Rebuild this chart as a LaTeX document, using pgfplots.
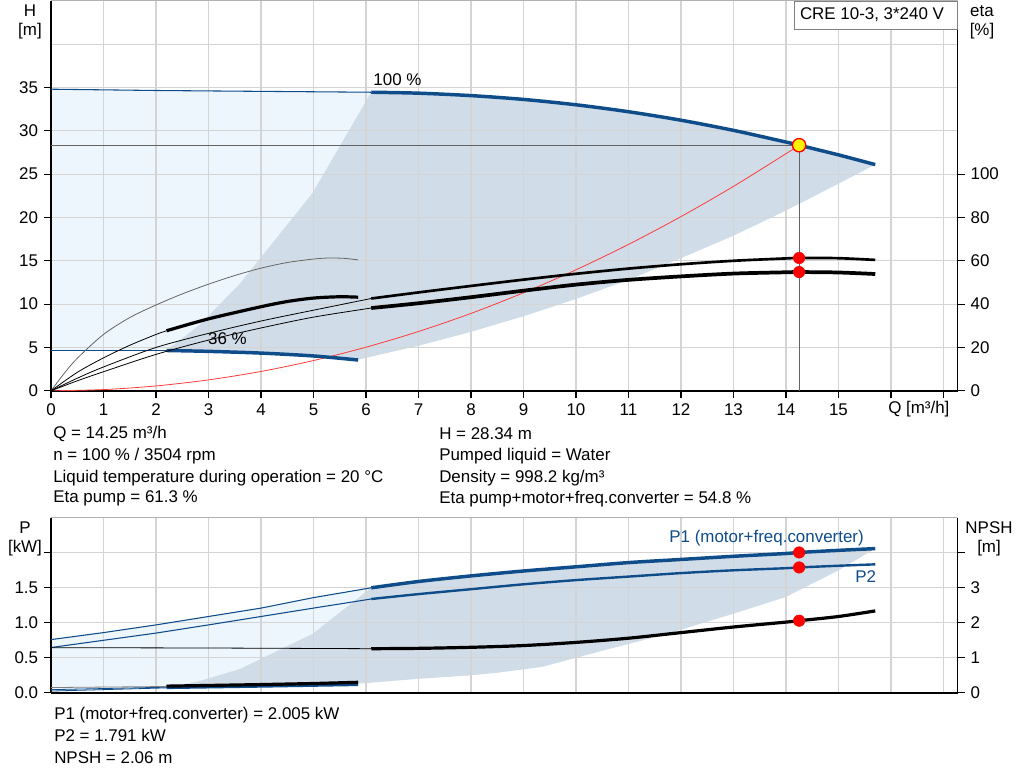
\documentclass[12pt,border=0pt]{standalone}
\usepackage{fontspec}
\setmainfont{Liberation Sans}
\usepackage{pgfplots}
\pgfplotsset{compat=1.18}

\definecolor{pblue}{RGB}{14,76,138}
\definecolor{fillD}{RGB}{208,220,231}
\definecolor{fillL}{RGB}{237,245,253}
\definecolor{gridc}{RGB}{212,212,212}
\definecolor{opgray}{RGB}{100,100,100}
\definecolor{sysred}{RGB}{255,60,60}
\newcommand\myf{\fontsize{12.7}{15}\selectfont}

\pgfplotsset{
  base/.style={scale only axis, width=680pt, set layers, xmin=0, xmax=17.27,
    tick align=outside, major tick length=5.5pt,
    every tick/.style={black, line width=0.8pt},
    axis line style={black, line width=1.2pt},
    tick label style={font=\myf},
    grid=major, major grid style={gridc, line width=0.9pt}},
  sec/.style={scale only axis, width=680pt, set layers, xmin=0, xmax=17.27,
    tick align=outside, major tick length=5.5pt,
    every tick/.style={black, line width=0.8pt},
    axis line style={black, line width=1.2pt},
    tick label style={font=\myf},
    axis y line*=right, axis x line=none, grid=none},
  thinb/.style={pblue, line width=0.8pt},
  thickb/.style={pblue, line width=2.6pt},
  medb/.style={pblue, line width=1.8pt},
  reddot/.style={only marks, mark=*, mark size=4.3pt, mark options={draw=red, fill=red}},
}

\begin{document}
\begin{tikzpicture}

% ================= TOP: H =================
\begin{axis}[base, at={(38.25pt,293.25pt)}, anchor=south west, height=292.5pt,
  ymin=0, ymax=45,
  axis x line*=bottom, axis y line*=left,
  xtick={0,1,2,3,4,5,6,7,8,9,10,11,12,13,14,15,16,17},
  xticklabels={0,1,2,3,4,5,6,7,8,9,10,11,12,13,14,15,,},
  ytick={0,5,10,15,20,25,30,35},
  yticklabels={0,5,10,15,20,25,30,35},
  extra y ticks={40}, extra y tick labels={},
  extra y tick style={grid=major, major tick length=0pt}]
% light region
\addplot[fill=fillL, draw=none, on layer=axis background] coordinates {
  (0,4.62) (2.2,4.62) (3,4.55) (4,4.35) (5,4.02) (5.85,3.55)
  (6.1,34.45) (4,34.55) (2,34.65) (0,34.8)} -- cycle;
% operating range
\addplot[fill=fillD, draw=none, on layer=axis background] coordinates {
  (2.2,4.65) (2.83,7.6) (3.59,12.3) (4.98,22.8) (6.1,34.45)
  (7,34.34) (8,34.06) (9,33.62) (10,33.0) (11,32.2) (12,31.22) (13,30.05) (14,28.7) (14.25,28.34) (15,27.22) (15.7,26.1)
  (15,23.9) (14,20.8) (13,17.9) (12,15.3) (11,12.8) (10,10.6) (9,8.6) (8,6.8) (7,5.2) (5.85,3.6)
  (5,4.02) (4,4.35) (3,4.55)} -- cycle;
% duty lines
\addplot[opgray, line width=0.8pt] coordinates {(0,28.34) (14.25,28.34)};
\addplot[opgray, line width=0.8pt] coordinates {(14.25,0) (14.25,28.34)};
% system curve
\addplot[sysred, line width=0.6pt, smooth] coordinates {
  (0,0) (1,0.14) (2,0.56) (3,1.26) (4,2.23) (5,3.49) (6,5.03) (7,6.84) (8,8.93)
  (9,11.31) (10,13.96) (11,16.89) (12,20.10) (13,23.59) (14,27.36) (14.25,28.34)};
% 100 % curve
\addplot[thinb] coordinates {(0,34.8) (2,34.65) (4,34.55) (6.1,34.45)};
\addplot[thickb, smooth] coordinates {(6.1,34.45) (7,34.34) (8,34.06) (9,33.62) (10,33.0) (11,32.2) (12,31.22) (13,30.05) (14,28.7) (14.25,28.34) (15,27.22) (15.7,26.1)};
% 36 % curve
\addplot[thinb] coordinates {(0,4.62) (2.2,4.62)};
\addplot[thickb, smooth] coordinates {(2.2,4.65) (3,4.55) (4,4.35) (5,4.02) (5.85,3.55)};
% duty point
\addplot[only marks, mark=*, mark size=5pt, mark options={draw=red, fill=yellow, line width=1pt}] coordinates {(14.25,28.34)};
\node[font=\myf] at (axis cs:6.6,35.9) {100 \%};
\node[font=\myf] at (axis cs:3.36,6.0) {36 \%};
\draw[gray!60, line width=0.8pt] (rel axis cs:0,1) -- (rel axis cs:1,1);
\end{axis}

% ================= TOP: eta =================
\begin{axis}[sec, at={(38.25pt,293.25pt)}, anchor=south west, height=292.5pt,
  ymin=0, ymax=180,
  ytick={0,20,40,60,80,100}, yticklabels={0,20,40,60,80,100}]
% 36 % pump eta
\addplot[gray!80!black, line width=0.6pt, smooth] coordinates {
  (0,0) (0.25,8) (0.5,15) (1,26) (1.5,33.8) (2,39.6) (2.5,44.7) (3,49.2) (3.5,53.2)
  (4,56.6) (4.5,59.2) (5,60.8) (5.3,61.3) (5.6,61.1) (5.85,60.4)};
% 36 % total eta
\addplot[black, line width=0.6pt, smooth] coordinates {(0,0) (0.5,8.5) (1,15.2) (1.5,21) (2,26) (2.2,27.7)};
\addplot[black, line width=2.4pt, smooth] coordinates {(2.2,27.7) (3,33.2) (4,38.8) (4.5,41.2) (5,42.8) (5.5,43.4) (5.85,43.2)};
% 100 % pump eta
\addplot[black, line width=0.6pt, smooth] coordinates {(0,0) (0.5,5.8) (1,11) (2,20) (3,26.5) (4,32.2) (5,37.2) (6.1,42.6)};
\addplot[black, line width=2pt, smooth] coordinates {(6.1,42.6) (7,45.4) (8,48.4) (9,51.3) (10,54.0) (11,56.4) (12,58.4) (13,60.0) (14,61.1) (14.25,61.3) (15,61.2) (15.7,60.4)};
% 100 % total eta
\addplot[black, line width=0.6pt, smooth] coordinates {(0,0) (0.5,4.6) (1,8.8) (2,16.8) (3,23.4) (4,29) (5,34) (6.1,38.2)};
\addplot[black, line width=2.8pt, smooth] coordinates {(6.1,38.2) (7,40.4) (8,43.2) (9,46.2) (10,49.0) (11,51.2) (12,52.8) (13,54.1) (14,54.7) (14.25,54.8) (15,54.6) (15.7,53.9)};
\addplot[reddot] coordinates {(14.25,61.3) (14.25,54.8)};
\end{axis}

% ================= BOTTOM: P =================
\begin{axis}[base, at={(38.25pt,66.75pt)}, anchor=south west, height=131.25pt,
  ymin=0, ymax=2.5,
  axis x line*=bottom, axis y line*=left,
  xtick={0,1,2,3,4,5,6,7,8,9,10,11,12,13,14,15,16,17}, xticklabels={},
  xtick style={draw=none},
  ytick={0,0.5,1,1.5,2}, yticklabels={0.0,0.5,1.0,1.5,}]
\addplot[fill=fillL, draw=none, on layer=axis background] coordinates {
  (0,0.02) (1,0.035) (2.2,0.065) (4,0.09) (5.85,0.11)
  (6.1,1.5) (5,1.36) (4,1.21) (3,1.09) (2,0.97) (1,0.86) (0,0.76)} -- cycle;
\addplot[fill=fillD, draw=none, on layer=axis background] coordinates {
  (2.2,0.07) (2.83,0.168) (3.59,0.337) (4.98,0.84) (6.1,1.5)
  (7,1.59) (8,1.67) (9,1.74) (10,1.80) (11,1.86) (12,1.905) (13,1.95) (14,1.99) (15,2.035) (15.7,2.06)
  (15,1.75) (14,1.37) (13,1.13) (11.73,0.84) (10.5,0.6) (9.35,0.37) (8.54,0.29) (8,0.25) (7,0.2) (5.85,0.13)
  (4,0.09)} -- cycle;
% P1
\addplot[thinb] coordinates {(0,0.76) (1,0.86) (2,0.97) (3,1.09) (4,1.21) (5,1.36) (6.1,1.5)};
\addplot[thickb, smooth] coordinates {(6.1,1.5) (7,1.59) (8,1.67) (9,1.74) (10,1.80) (11,1.86) (12,1.905) (13,1.95) (14,1.99) (14.25,2.005) (15,2.035) (15.7,2.06)};
% P2
\addplot[thinb] coordinates {(0,0.647) (1,0.75) (2,0.853) (3,0.97) (4,1.09) (5,1.21) (6.1,1.34)};
\addplot[medb, smooth] coordinates {(6.1,1.34) (7,1.41) (8,1.48) (9,1.55) (10,1.61) (11,1.66) (12,1.71) (13,1.75) (14,1.78) (14.25,1.791) (15,1.815) (15.7,1.835)};
% 36 %
\addplot[thinb, line width=0.6pt] coordinates {(0,0.045) (2.2,0.08)};
\addplot[thinb, line width=0.6pt] coordinates {(0,0.025) (2.2,0.07)};
\addplot[medb, line width=2pt] coordinates {(2.2,0.072) (4,0.092) (5.85,0.115)};
\addplot[reddot] coordinates {(14.25,2.005) (14.25,1.791)};
\node[pblue, font=\myf] at (axis cs:13.63,2.21) {P1 (motor+freq.converter)};
\node[pblue, font=\myf] at (axis cs:15.52,1.66) {P2};
\draw[gray!60, line width=0.8pt] (rel axis cs:0,1) -- (rel axis cs:1,1);
\end{axis}

% ================= BOTTOM: NPSH =================
\begin{axis}[sec, at={(38.25pt,66.75pt)}, anchor=south west, height=131.25pt,
  ymin=0, ymax=5,
  ytick={0,1,2,3,4}, yticklabels={0,1,2,3,}]
\addplot[black, line width=0.6pt] coordinates {(0,1.29) (3,1.28) (6.1,1.26)};
\addplot[black, line width=2.4pt, smooth] coordinates {(6.1,1.26) (7,1.27) (8,1.30) (9,1.35) (10,1.44) (11,1.56) (12,1.72) (13,1.88) (14,2.02) (14.25,2.06) (15,2.18) (15.7,2.34)};
\addplot[gray, line width=0.6pt] coordinates {(0,0.15) (2.2,0.18)};
\addplot[black, line width=2.4pt] coordinates {(2.2,0.19) (3,0.21) (4,0.235) (5,0.265) (5.85,0.3)};
\addplot[reddot] coordinates {(14.25,2.06)};
\end{axis}

% ================= texts =================
\begin{scope}[x=0.75pt, y=-0.75pt, shift={(0pt,585.75pt)}, every node/.style={font=\myf, inner sep=0pt}]
\node at (30,10) {H};
\node at (30,30) {[m]};
\node at (982,10) {eta};
\node at (982,30) {[\%]};
\node[anchor=west] at (888,408) {Q [m³/h]};
\node[draw=gray, fill=white, line width=0.8pt, minimum width=122pt, minimum height=21pt, anchor=north east] at (958,0) {};
\node at (872,14) {CRE 10-3, 3*240 V};
\node[anchor=west] at (53,433) {Q = 14.25 m³/h};
\node[anchor=west] at (53,455) {n = 100 \% / 3504 rpm};
\node[anchor=west] at (53,477) {Liquid temperature during operation = 20 °C};
\node[anchor=west] at (53,498) {Eta pump = 61.3 \%};
\node[anchor=west] at (439,433) {H = 28.34 m};
\node[anchor=west] at (439,455) {Pumped liquid = Water};
\node[anchor=west] at (439,477) {Density = 998.2 kg/m³};
\node[anchor=west] at (439,498) {Eta pump+motor+freq.converter = 54.8 \%};
\node at (25,527) {P};
\node at (25,547) {[kW]};
\node at (989,527) {NPSH};
\node at (989,547) {[m]};
\node[anchor=west] at (54,714) {P1 (motor+freq.converter) = 2.005 kW};
\node[anchor=west] at (54,735) {P2 = 1.791 kW};
\node[anchor=west] at (54,757) {NPSH = 2.06 m};
\end{scope}
\useasboundingbox (0,0) rectangle (768pt,585.75pt);
\end{tikzpicture}
\end{document}
